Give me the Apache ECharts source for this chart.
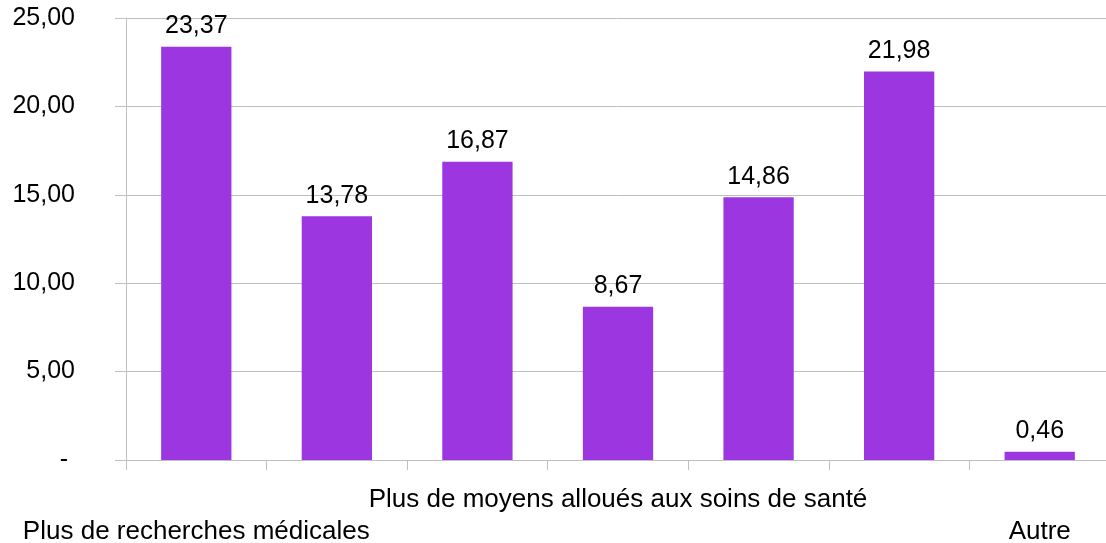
<!DOCTYPE html>
<html>
<head>
<meta charset="utf-8">
<script src="https://cdn.jsdelivr.net/npm/echarts@6/dist/echarts.min.js"></script>
<style>
  html, body { margin: 0; padding: 0; background: #fff; }
  #chart { width: 1106px; height: 543px; }
</style>
</head>
<body>
<div id="chart"></div>
<script>
// catégories (seules certaines étiquettes sont visibles dans l'original)
const categories = [
  "Plus de recherches médicales",
  "",
  "",
  "Plus de moyens alloués aux soins de santé",
  "",
  "",
  "Autre",
];
// valeurs des barres
const values = [23.37, 13.78, 16.87, 8.67, 14.86, 21.98, 0.46];
// étiquettes de rangée basse (décalées sur la 2e ligne)
const lowRow = [0, 6];

const fmt = v => (v === 0 ? "- " : v.toFixed(2).replace(".", ","));
const grey = "#bfbfbf";
const font = "Liberation Sans, Arial, sans-serif";

const myChart = echarts.init(document.getElementById("chart"));
myChart.setOption({
  animation: false,
  textStyle: { fontFamily: font },
  grid: {
    left: 126,
    width: 984,
    top: 18,
    bottom: 83,
    containLabel: false,
    outerBoundsMode: "none",
  },
  xAxis: {
    type: "category",
    data: categories,
    axisLine: { lineStyle: { color: grey, width: 1 } },
    axisTick: { show: true, length: 10, lineStyle: { color: grey } },
    axisLabel: {
      interval: 0,
      color: "#000",
      fontSize: 26,
      fontFamily: font,
      lineHeight: 32,
      margin: 24,
      overflow: "none",
      formatter: (val, idx) => (lowRow.includes(idx) ? "\n" + val : val),
    },
  },
  yAxis: {
    type: "value",
    min: 0,
    max: 25,
    interval: 5,
    axisLine: { show: true, lineStyle: { color: grey, width: 1 } },
    axisTick: { show: true, length: 11, lineStyle: { color: grey } },
    splitLine: { lineStyle: { color: grey, width: 1 } },
    axisLabel: {
      color: "#000",
      fontSize: 25,
      fontFamily: font,
      margin: 51,
      formatter: v => fmt(v),
    },
  },
  series: [
    {
      type: "bar",
      data: values,
      barCategoryGap: "50%",
      itemStyle: { color: "#9B36E0" },
      label: {
        show: true,
        position: "top",
        distance: 8,
        color: "#000",
        fontSize: 25,
        fontFamily: font,
        formatter: p => fmt(p.value),
      },
    },
  ],
});
</script>
</body>
</html>
